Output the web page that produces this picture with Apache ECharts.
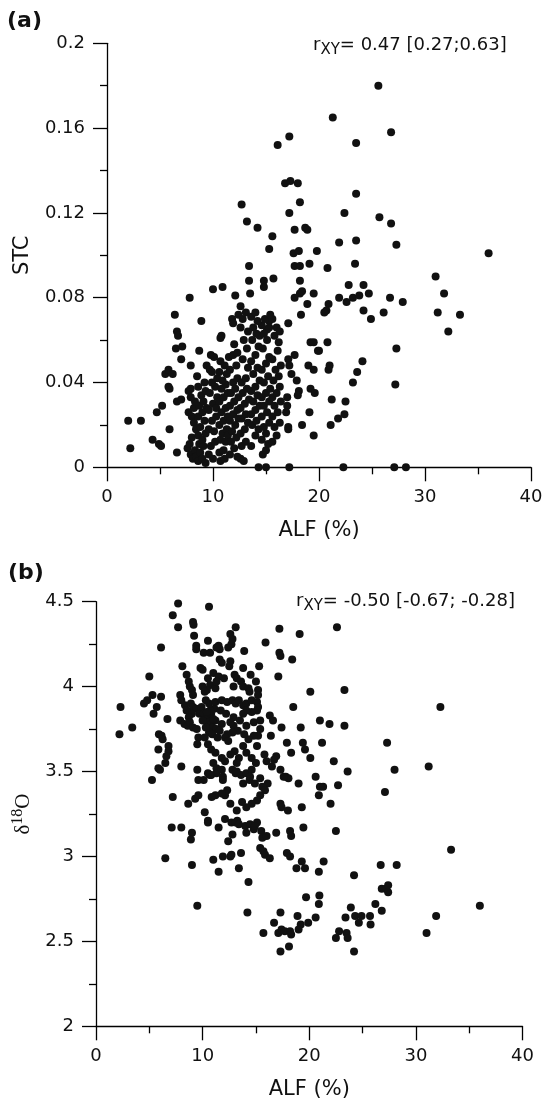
<!DOCTYPE html>
<html>
<head>
<meta charset="utf-8">
<script src="https://cdn.jsdelivr.net/npm/echarts@6/dist/echarts.min.js"></script>
<style>html,body{margin:0;padding:0;background:#fff;}#c{width:552px;height:1105px;}</style>
</head>
<body>
<div id="c"></div>
<script>
// ---------- Axis ticks ----------
const alfTicks = [0, 10, 20, 30, 40];
const stcTicks = [0, 0.04, 0.08, 0.12, 0.16, 0.2];
const d18Ticks = [2, 2.5, 3, 3.5, 4, 4.5];

// ---------- Panel (a): ALF (%) vs STC ----------
const stcUpper = [[25.6,0.180],[21.3,0.165],[26.8,0.158],[23.5,0.153],[17.2,0.156],[16.1,0.152],[16.8,0.134],[17.3,0.135],[18.0,0.134],[23.5,0.129],[12.7,0.124],[18.2,0.125],[17.2,0.120],[22.4,0.120],[25.7,0.118],[13.2,0.116],[14.2,0.113],[17.7,0.112],[18.7,0.113],[18.9,0.112],[26.8,0.115],[15.6,0.109],[21.9,0.106],[23.5,0.107],[27.3,0.105],[15.3,0.103],[17.6,0.101],[18.1,0.102],[19.8,0.102],[36.0,0.101],[13.4,0.095],[17.7,0.095],[18.2,0.095],[19.1,0.096],[20.8,0.094],[23.4,0.096],[31.0,0.090],[13.4,0.088],[14.8,0.088],[15.7,0.089],[18.2,0.088]];
const stcMid = [[14.8,0.085],[10.0,0.084],[10.9,0.085],[7.8,0.080],[12.1,0.081],[13.5,0.082],[18.2,0.082],[18.4,0.083],[17.7,0.080],[19.5,0.082],[18.9,0.077],[18.3,0.072],[21.9,0.080],[22.6,0.078],[23.2,0.080],[23.8,0.081],[24.2,0.086],[24.7,0.082],[22.8,0.086],[20.9,0.077],[20.7,0.074],[20.5,0.073],[26.7,0.080],[27.9,0.078],[24.2,0.074],[24.9,0.070],[26.1,0.073],[31.8,0.082],[31.2,0.073],[33.3,0.072],[32.2,0.064],[27.3,0.056],[27.2,0.039],[24.1,0.050],[23.6,0.045],[23.2,0.040],[22.5,0.031],[22.4,0.025],[21.8,0.023],[21.2,0.032],[21.1,0.020],[20.9,0.046],[21.0,0.048],[20.8,0.059],[20.0,0.055],[19.9,0.055],[19.2,0.059],[19.5,0.059],[19.0,0.048],[19.5,0.046],[19.2,0.037],[19.6,0.035],[19.1,0.026],[19.5,0.015],[18.4,0.020],[17.7,0.053],[17.1,0.068],[17.1,0.051],[17.2,0.048],[17.4,0.044],[17.9,0.041],[18.1,0.036],[18.0,0.034],[17.1,0.019],[17.1,0.018],[17.0,0.033],[16.9,0.026],[17.0,0.029],[16.2,0.059],[16.0,0.066],[15.6,0.070],[15.3,0.069],[15.1,0.065],[14.6,0.067]];
const stcLeft = [[2.0,0.022],[3.2,0.022],[2.2,0.009],[4.3,0.013],[4.9,0.011],[5.1,0.010],[4.7,0.026],[5.2,0.029],[5.9,0.018],[5.8,0.038],[5.9,0.037],[5.5,0.044],[5.8,0.046],[6.2,0.044],[6.4,0.072],[6.6,0.064],[6.7,0.062],[6.5,0.056],[7.1,0.057],[7.0,0.051],[6.6,0.031],[7.0,0.032],[6.6,0.007]];
const stcCore = [[8.9,0.069],[10.8,0.062],[10.7,0.061],[11.8,0.070],[11.9,0.068],[8.7,0.055],[7.9,0.048],[9.8,0.053],[10.1,0.052],[10.7,0.050],[11.1,0.048],[11.5,0.052],[11.9,0.053],[12.3,0.054],[9.4,0.048],[9.7,0.046],[9.9,0.045],[8.5,0.043],[7.9,0.037],[10.7,0.003],[12.6,0.076],[12.4,0.072],
[7.6,0.009],[7.9,0.006],[8.1,0.004],[7.8,0.011],[8.3,0.008],[7.7,0.026],[8.0,0.024],[8.2,0.028],[8.3,0.031],[7.9,0.033],[8.2,0.021],[8.4,0.018],[8.0,0.014],[8.4,0.005],[7.7,0.036],
[8.6,0.003],[8.8,0.007],[9.0,0.004],[9.3,0.002],[8.7,0.011],[9.1,0.010],[8.6,0.015],[9.0,0.013],[9.3,0.016],[8.8,0.019],[9.2,0.022],[8.6,0.024],[9.0,0.026],[8.7,0.029],[9.1,0.031],[8.9,0.034],[9.3,0.036],[8.6,0.038],[9.2,0.040],[9.4,0.028],
[9.6,0.006],[10.0,0.004],[9.8,0.010],[10.2,0.012],[9.6,0.018],[10.1,0.017],[9.9,0.022],[10.3,0.024],[9.6,0.027],[10.0,0.030],[10.4,0.033],[9.7,0.035],[10.2,0.038],[9.9,0.040],[10.4,0.042],[10.3,0.028],
[10.6,0.007],[11.0,0.008],[10.7,0.013],[11.2,0.012],[10.9,0.016],[11.3,0.018],[10.6,0.020],[11.0,0.022],[11.4,0.024],[10.8,0.026],[11.2,0.028],[10.6,0.031],[11.0,0.033],[11.4,0.035],[10.8,0.037],[11.2,0.039],[10.9,0.041],[11.3,0.044],[10.6,0.045],[11.4,0.015],[11.1,0.004],
[11.6,0.006],[12.0,0.009],[12.3,0.005],[11.7,0.012],[12.2,0.014],[11.8,0.017],[12.1,0.020],[11.6,0.022],[12.4,0.023],[11.9,0.025],[12.3,0.027],[11.6,0.029],[12.0,0.031],[12.4,0.033],[11.7,0.035],[12.1,0.037],[11.9,0.040],[12.3,0.042],[11.6,0.046],[12.2,0.048],[12.0,0.058],
[12.6,0.004],[12.9,0.003],[12.7,0.010],[13.1,0.012],[12.6,0.016],[13.0,0.018],[13.3,0.021],[12.7,0.023],[13.1,0.025],[12.6,0.028],[13.0,0.030],[13.4,0.032],[12.8,0.035],[13.2,0.037],[12.7,0.040],[13.1,0.042],[13.3,0.047],[12.8,0.051],[13.2,0.056],[12.9,0.060],[13.3,0.064],[12.8,0.070],[13.1,0.073],[12.6,0.066],
[13.6,0.010],[14.0,0.015],[14.3,0.018],[13.7,0.020],[14.1,0.022],[13.6,0.025],[14.0,0.027],[14.4,0.029],[13.8,0.031],[14.2,0.034],[13.6,0.036],[14.0,0.038],[14.4,0.041],[13.8,0.044],[14.2,0.047],[13.6,0.050],[14.0,0.053],[14.3,0.057],[13.7,0.060],[14.1,0.063],[13.8,0.066],[14.2,0.069],[13.6,0.071],[14.0,0.073],[14.4,0.062],
[14.7,0.006],[15.0,0.008],[15.2,0.011],[14.6,0.013],[15.0,0.016],[14.8,0.019],[15.3,0.021],[14.6,0.024],[15.1,0.026],[14.8,0.029],[15.3,0.031],[14.6,0.033],[15.0,0.035],[15.4,0.037],[14.8,0.040],[15.2,0.043],[14.6,0.046],[15.0,0.049],[15.3,0.052],[14.7,0.056],[15.1,0.060],[14.8,0.063],[15.3,0.066],[14.9,0.070],[15.4,0.072],
[15.6,0.012],[16.0,0.015],[15.8,0.019],[16.3,0.021],[15.6,0.024],[16.1,0.026],[15.8,0.029],[16.4,0.031],[15.6,0.033],[16.0,0.035],[16.3,0.038],[15.7,0.041],[16.2,0.043],[15.9,0.046],[16.4,0.048],[15.6,0.051],[16.1,0.055],[15.8,0.062],[16.3,0.064]];
const stcZero = [[14.3,0],[15.0,0],[17.2,0],[22.3,0],[27.1,0],[28.2,0]];

// ---------- Panel (b): ALF (%) vs d18O ----------
const d18Upper = [[7.7,4.49],[10.6,4.47],[7.2,4.42],[7.7,4.35],[9.1,4.38],[9.15,4.365],[13.1,4.35],[9.2,4.30],[12.6,4.31],[12.8,4.28],[12.7,4.25],[12.4,4.23],[10.5,4.27],[11.5,4.24],[11.6,4.22],[9.4,4.24],[9.4,4.22],[10.1,4.20],[10.7,4.20],[11.3,4.23],[13.9,4.21],[15.9,4.26],[17.2,4.34],[19.1,4.31],[22.6,4.35],[17.2,4.20],[17.3,4.18],[18.4,4.16],[6.1,4.23],[11.6,4.16],[11.8,4.14],[12.6,4.15],[12.5,4.12],[8.1,4.12],[9.8,4.11],[10.0,4.10],[13.8,4.11],[15.3,4.12],[17.1,4.06],[5.0,4.06],[8.5,4.07],[8.7,4.03],[8.8,4.00],[9.0,3.98],[9.1,3.95],[10.5,4.05],[10.7,4.01],[10.4,3.98],[11.2,3.99],[10.0,4.00],[10.2,3.97],[13.0,4.07],[13.2,4.05],[13.6,4.03],[13.8,4.00],[14.3,3.99],[14.4,3.97],[15.0,4.03],[15.2,3.98],[15.2,3.95],[11.0,4.08],[11.5,4.06],[12.0,4.05],[14.5,4.07],[11.3,4.03],[12.9,4.00]];
const d18Left = [[2.3,3.88],[3.4,3.76],[2.2,3.72],[4.5,3.90],[4.8,3.92],[5.3,3.95],[6.1,3.94],[5.4,3.84],[5.7,3.88],[6.7,3.81],[7.9,3.95],[8.0,3.92],[8.35,3.89],[5.9,3.72],[6.15,3.71],[6.25,3.69],[6.8,3.65],[6.8,3.62],[6.6,3.59],[5.85,3.63],[6.5,3.55],[5.85,3.52],[6.0,3.51],[5.25,3.45],[8.0,3.53],[7.2,3.35],[7.9,3.80]];
const d18Core = [[8.9,3.90],[9.1,3.88],[9.4,3.87],[9.7,3.84],[8.5,3.86],[9.0,3.84],[8.3,3.78],[8.6,3.77],[8.7,3.82],[8.8,3.79],[9.1,3.76],[9.45,3.75],[9.6,3.70],[9.5,3.66],
[9.9,3.88],[10.1,3.84],[10.5,3.82],[10.8,3.84],[11.1,3.87],[10.5,3.79],[10.8,3.78],[11.2,3.80],[10.95,3.76],[11.3,3.75],[10.6,3.73],[10.3,3.76],[10.0,3.80],[10.7,3.86],[11.0,3.81],[10.4,3.85],[10.6,3.90],[11.2,3.91],[10.3,3.92],[10.9,3.72],[11.4,3.70],[10.2,3.70],
[11.8,3.92],[12.3,3.91],[12.8,3.92],[13.1,3.90],[13.4,3.92],[13.8,3.89],[14.1,3.90],[14.6,3.92],[15.1,3.91],[15.2,3.88],[15.1,3.86],[14.6,3.85],[14.1,3.86],[13.8,3.84],[12.9,3.82],[12.6,3.79],[12.9,3.77],[13.3,3.74],[12.8,3.73],[12.3,3.72],[12.1,3.70],[12.4,3.68],[14.1,3.77],[14.8,3.79],[15.4,3.80],[15.4,3.75],[15.2,3.71],[14.8,3.71],[14.3,3.69],[13.8,3.65],[14.1,3.61],[15.1,3.65],[11.7,3.86],[12.2,3.84],[13.5,3.80],[13.9,3.72],[11.8,3.78],[11.6,3.74],
[16.3,3.83],[16.6,3.80],[17.4,3.76],[16.4,3.71],[18.5,3.88],[19.2,3.76],[20.1,3.97],[23.3,3.98],[21.0,3.80],[21.9,3.78],[23.3,3.77],[32.3,3.88],[27.3,3.67],[28.0,3.51],[31.2,3.53],[27.1,3.38],[21.2,3.67],[22.3,3.56],[23.6,3.50],[19.4,3.67],[19.6,3.63],[20.1,3.58],[17.9,3.67],[18.3,3.61],[17.8,3.47],[18.05,3.46],[19.0,3.43],[20.6,3.47],[21.0,3.41],[21.3,3.41],[22.7,3.42],[20.9,3.36],[22.0,3.31],[19.3,3.29],[17.3,3.31],[17.4,3.29],[18.0,3.27],[17.3,3.51],[16.5,3.53],[16.9,3.59],[16.7,3.57],
[10.8,3.63],[11.2,3.61],[11.8,3.58],[12.1,3.56],[10.5,3.66],[11.0,3.55],[11.3,3.52],[9.5,3.51],[9.6,3.45],[10.1,3.45],[10.5,3.49],[10.8,3.48],[11.3,3.49],[11.8,3.51],[11.9,3.47],[12.8,3.51],[13.1,3.49],[13.6,3.48],[14.1,3.49],[14.6,3.51],[13.8,3.43],[14.4,3.45],[14.9,3.43],[15.4,3.46],[16.1,3.43],[15.6,3.41],[13.0,3.62],[13.4,3.58],[13.2,3.55],[14.6,3.58],[15.0,3.55],[15.8,3.60],[16.0,3.56],[12.6,3.60]];
const d18Low = [[8.65,3.31],[9.3,3.34],[9.6,3.36],[10.7,3.48],[11.9,3.45],[13.2,3.50],[14.45,3.47],[15.85,3.39],[15.4,3.36],[15.1,3.33],[14.6,3.31],[14.1,3.29],[13.7,3.32],[13.2,3.27],[12.6,3.31],[12.1,3.36],[12.3,3.39],[11.8,3.37],[11.2,3.36],[10.85,3.35],[17.6,3.47],
[10.2,3.26],[10.5,3.21],[7.1,3.17],[8.0,3.17],[9.0,3.14],[8.9,3.10],[6.5,2.99],[9.0,2.95],[9.5,2.71],[11.5,3.17],[12.1,3.22],[12.7,3.20],[13.25,3.21],[14.0,3.18],[14.45,3.19],[14.1,3.14],[14.8,3.16],[15.1,3.20],[15.5,3.15],[15.6,3.11],[16.0,3.12],[16.9,3.14],[18.2,3.15],[18.3,3.12],[19.45,3.17],[12.4,3.09],[11.0,2.98],[11.9,3.00],[12.6,3.00],[12.7,3.01],[13.6,3.02],[13.4,2.93],[11.5,2.91],[14.3,2.85],[14.2,2.67],[15.4,3.05],[15.7,3.03],[15.85,3.01],[16.3,2.99],[17.9,3.02],[18.2,3.00],[18.8,2.93],[19.6,2.93],[19.3,2.97],[20.9,2.91],[21.35,2.97],[22.5,3.15],[24.2,2.89],[26.7,2.95],[28.2,2.95],[33.3,3.04],[10.5,3.20],[13.1,3.20],[13.4,3.19],[14.9,3.18],[12.8,3.13]];
const d18Bottom = [[26.8,2.81],[27.2,2.81],[27.4,2.79],[27.4,2.83],[19.7,2.76],[20.95,2.77],[20.9,2.72],[36.0,2.71],[23.9,2.70],[26.2,2.72],[26.8,2.68],[17.3,2.67],[18.9,2.65],[19.9,2.61],[20.6,2.64],[23.4,2.64],[24.3,2.65],[24.65,2.61],[24.9,2.65],[25.7,2.65],[25.75,2.60],[31.9,2.65],[31.0,2.55],[16.7,2.61],[15.7,2.55],[17.1,2.55],[17.4,2.57],[17.7,2.56],[18.2,2.56],[18.3,2.54],[19.2,2.60],[19.0,2.57],[18.1,2.47],[17.3,2.44],[22.5,2.52],[22.8,2.56],[23.5,2.55],[23.6,2.52],[24.2,2.44]];

const stcData = [].concat(stcUpper, stcMid, stcLeft, stcCore, stcZero);
const d18Data = [].concat(d18Upper, d18Left, d18Core, d18Low, d18Bottom);

const FONT = 'DejaVu Sans';
const INK = '#111';
const lineS = {color: '#000', width: 1.3};

function xAxis(gi, ticks) {
  return {
    type: 'value', gridIndex: gi, min: ticks[0], max: ticks[ticks.length - 1], interval: ticks[1] - ticks[0],
    axisLine: {show: true, onZero: false, lineStyle: lineS},
    axisTick: {show: true, length: 14, lineStyle: lineS},
    minorTick: {show: true, splitNumber: 2, length: 7, lineStyle: lineS},
    splitLine: {show: false}, minorSplitLine: {show: false},
    axisLabel: {fontSize: 18, fontFamily: FONT, color: INK, margin: 21},
    name: 'ALF (%)', nameLocation: 'middle', nameGap: 53,
    nameTextStyle: {fontSize: 21, fontFamily: FONT, color: INK}
  };
}
function yAxis(gi, ticks, name, nameGap, nts) {
  return {
    type: 'value', gridIndex: gi, min: ticks[0], max: ticks[ticks.length - 1], interval: +(ticks[1] - ticks[0]).toFixed(4),
    axisLine: {show: true, onZero: false, lineStyle: lineS},
    axisTick: {show: true, length: 14, lineStyle: lineS},
    minorTick: {show: true, splitNumber: 2, length: 7, lineStyle: lineS},
    splitLine: {show: false}, minorSplitLine: {show: false},
    axisLabel: {fontSize: 18, fontFamily: FONT, color: INK, margin: 22},
    name: name, nameLocation: 'middle', nameGap: nameGap, nameTextStyle: nts
  };
}

const chart = echarts.init(document.getElementById('c'), null, {renderer: 'canvas'});
chart.setOption({
  backgroundColor: '#fff',
  animation: false,
  grid: [
    {left: 107, top: 43.3, width: 424, height: 424},
    {left: 96, top: 601.7, width: 426.5, height: 424.6}
  ],
  xAxis: [xAxis(0, alfTicks), xAxis(1, alfTicks)],
  yAxis: [
    yAxis(0, stcTicks, 'STC', 74, {fontSize: 21, fontFamily: FONT, color: INK}),
    yAxis(1, d18Ticks, '{a|δ}{b|18}{a|O}', 62, {
      color: INK,
      rich: {
        a: {fontSize: 21, fontFamily: 'Liberation Serif', color: INK, verticalAlign: 'bottom', lineHeight: 24},
        b: {fontSize: 16, fontFamily: 'Liberation Serif', color: INK, verticalAlign: 'top', lineHeight: 18}
      }
    })
  ],
  series: [
    {type: 'scatter', xAxisIndex: 0, yAxisIndex: 0, data: stcData, symbol: 'circle', symbolSize: 8,
     itemStyle: {color: INK, opacity: 1}},
    {type: 'scatter', xAxisIndex: 1, yAxisIndex: 1, data: d18Data, symbol: 'circle', symbolSize: 8,
     itemStyle: {color: INK, opacity: 1}}
  ],
  graphic: [
    {type: 'text', left: 7, top: 10, style: {text: '(a)', font: 'bold 22px "DejaVu Sans"', fill: INK}},
    {type: 'text', left: 8, top: 562, style: {text: '(b)', font: 'bold 22px "DejaVu Sans"', fill: INK}},
    {type: 'text', left: 313, top: 36, style: {
      text: '{r|r}{s|XY}{t|= 0.47 [0.27;0.63]}',
      rich: {
        r: {fontSize: 18, fontFamily: FONT, fill: INK, color: INK, verticalAlign: 'top', lineHeight: 22},
        s: {fontSize: 15, fontFamily: FONT, fill: INK, color: INK, verticalAlign: 'bottom', lineHeight: 22, padding: [7, 0, 0, 0]},
        t: {fontSize: 18, fontFamily: FONT, fill: INK, color: INK, verticalAlign: 'top', lineHeight: 22}
      }
    }},
    {type: 'text', left: 296, top: 592, style: {
      text: '{r|r}{s|XY}{t|= -0.50 [-0.67; -0.28]}',
      rich: {
        r: {fontSize: 18, fontFamily: FONT, fill: INK, color: INK, verticalAlign: 'top', lineHeight: 22},
        s: {fontSize: 15, fontFamily: FONT, fill: INK, color: INK, verticalAlign: 'bottom', lineHeight: 22, padding: [7, 0, 0, 0]},
        t: {fontSize: 18, fontFamily: FONT, fill: INK, color: INK, verticalAlign: 'top', lineHeight: 22}
      }
    }}
  ]
});
</script>
</body>
</html>
